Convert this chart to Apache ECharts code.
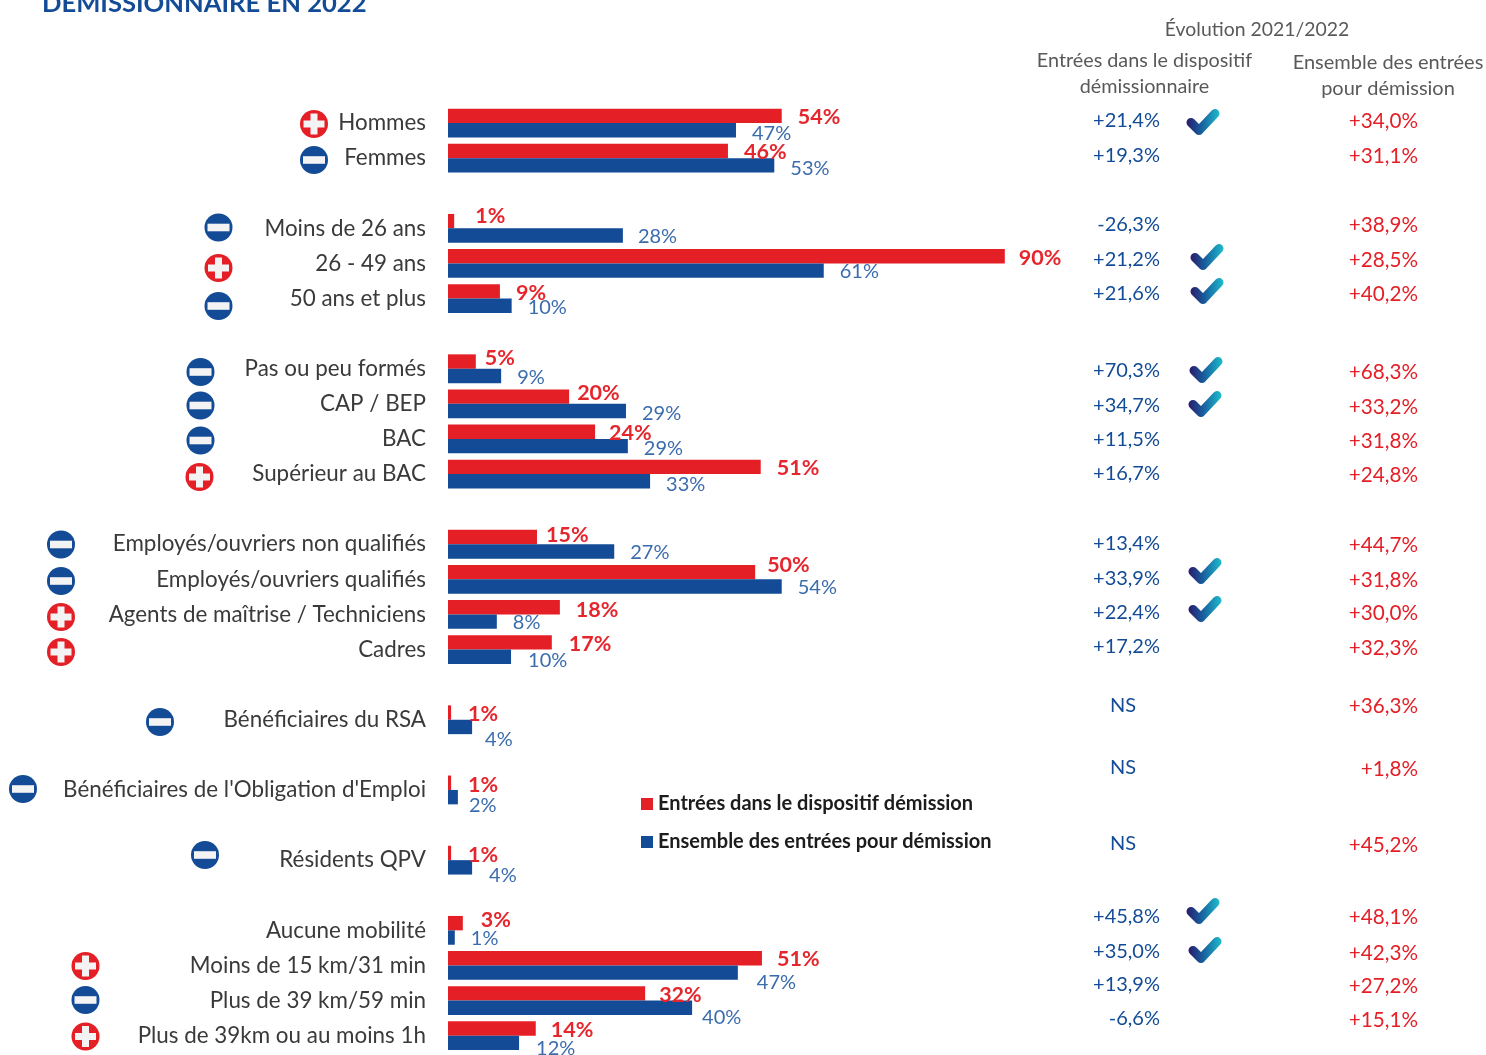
<!DOCTYPE html>
<html><head><meta charset="utf-8">
<style>html,body{margin:0;padding:0;background:#fff}#c{width:1486px;height:1055px}</style>
<script src="https://cdn.jsdelivr.net/npm/echarts@6/dist/echarts.min.js"></script>
</head><body><div id="c"></div>
<script>
// ---- data (one entry per row, '' / null = spacer row)
const categories = ['Hommes','Femmes','','Moins de 26 ans','26 - 49 ans','50 ans et plus','','Pas ou peu formés','CAP / BEP','BAC','Supérieur au BAC','','Employés/ouvriers non qualifiés','Employés/ouvriers qualifiés','Agents de maîtrise / Techniciens','Cadres','','Bénéficiaires du RSA','',"Bénéficiaires de l'Obligation d'Emploi",'','Résidents QPV','','Aucune mobilité','Moins de 15 km/31 min','Plus de 39 km/59 min','Plus de 39km ou au moins 1h'];
const redValues  = [54,45.3,null,1,90.1,8.4,null,4.5,19.6,23.8,50.6,null,14.4,49.7,18.1,16.8,null,0.5,null,0.5,null,0.5,null,2.4,50.8,31.9,14.2];
const blueValues = [46.6,52.8,null,28.3,60.8,10.3,null,8.6,28.8,29.1,32.7,null,26.9,54,7.9,10.2,null,3.9,null,1.6,null,3.9,null,1.1,46.9,39.5,11.5];
const redLabels  = ['54%','46%',null,'1%','90%','9%',null,'5%','20%','24%','51%',null,'15%','50%','18%','17%',null,'1%',null,'1%',null,'1%',null,'3%','51%','32%','14%'];
const blueLabels = ['47%','53%',null,'28%','61%','10%',null,'9%','29%','29%','33%',null,'27%','54%','8%','10%',null,'4%',null,'2%',null,'4%',null,'1%','47%','40%','12%'];
const evolDispositif = ['+21,4%','+19,3%',null,'-26,3%','+21,2%','+21,6%',null,'+70,3%','+34,7%','+11,5%','+16,7%',null,'+13,4%','+33,9%','+22,4%','+17,2%',null,'NS',null,'NS',null,'NS',null,'+45,8%','+35,0%','+13,9%','-6,6%'];
const evolEnsemble   = ['+34,0%','+31,1%',null,'+38,9%','+28,5%','+40,2%',null,'+68,3%','+33,2%','+31,8%','+24,8%',null,'+44,7%','+31,8%','+30,0%','+32,3%',null,'+36,3%',null,'+1,8%',null,'+45,2%',null,'+48,1%','+42,3%','+27,2%','+15,1%'];
const signs  = ['+','-',null,'-','+','-',null,'-','-','-','+',null,'-','-','+','+',null,'-',null,'-',null,'-',null,null,'+','-','+'];
const checks = [1,0,0,0,1,1,0,1,1,0,0,0,0,1,1,0,0,0,0,0,0,0,0,1,1,0,0];

// ---- layout (kept apart from the data)
const redLabelDx  = [16,16,0,21,14,16,0,9,8,14,16,0,9,12,16,17,0,17,0,17,0,17,0,18,15,14,15];
const redLabelDy  = [1.5,1.5,0,-5,2,1.5,0,-3.5,-3.5,1.5,1,0,-2,-7,3,2,0,2,0,2,0,2,0,-3.5,1,1.5,2];
const blueLabelDx = [16,16,0,15,16,16,0,16,16,16,16,0,16,16,16,17,0,13,0,11,0,17,0,16,19,10,17];
const blueLabelDy = [3,3,0,1,1,2,0,2,2,2,3,0,1,1,1,4,0,13,0,8,0,8,0,1,10,10,6];
const col1Y = [121,156,0,225,260,294,0,371,406,440,474,0,544,579,613,647,0,706,0,768,0,844,0,917,952,985,1019];
const col2Y = [121,156,0,225,260,294,0,372,407,441,475,0,545,580,613,648,0,706,0,769,0,845,0,917,953,986,1020];
const iconX = [314,314,0,218.5,218.5,218.5,0,200.5,200.5,200.5,199.5,0,61,61,61,61,0,160,0,23,0,205,0,0,85.5,85.5,85.5];
const iconY = [124,160,0,227.5,268,306,0,372,405.5,440.5,477,0,544.5,581,617,652,0,722,0,789,0,855,0,0,966,1000,1036.5];
const checkX = [1203,0,0,0,1207,1207,0,1206,1205,0,0,0,0,1205,1205,0,0,0,0,0,0,0,0,1203,1205,0,0];
const checkY = [122,0,0,0,257,291,0,370,404,0,0,0,0,571,609,0,0,0,0,0,0,0,0,911,950,0,0];

const RED='#e41f26', BLUE='#134b96', FONT='Lato, Carlito, "Open Sans", sans-serif';

function barData(vals, labs, dx, dy){
  return vals.map((v,i)=> v==null ? {value:null} : {value:v, label:{formatter:labs[i], offset:[dx[i],dy[i]]}});
}
const iconData=[], col1Data=[], col2Data=[], checkData=[];
categories.forEach((c,i)=>{
  if(signs[i]) iconData.push([iconX[i],iconY[i],signs[i]==='+'?1:0]);
  if(evolDispositif[i]) col1Data.push([evolDispositif[i]==='NS'?1136:1160,col1Y[i],evolDispositif[i]]);
  if(evolEnsemble[i]) col2Data.push([1418,col2Y[i],evolEnsemble[i]]);
  if(checks[i]) checkData.push([checkX[i],checkY[i]]);
});
function textSeries(data,color,size){
  return {type:'custom',xAxisIndex:1,yAxisIndex:1,silent:true,data,
    encode:{x:0,y:1},
    renderItem(p,api){
      const pt=api.coord([api.value(0),api.value(1)]);
      return {type:'text',x:pt[0],y:pt[1],style:{text:String(data[p.dataIndex][2]),fill:color,font:size+'px '+FONT,align:'right',verticalAlign:'middle'}};
    }};
}
const option={
  animation:false,
  backgroundColor:'#fff',
  title:{text:'DÉMISSIONNAIRE EN 2022',left:37,top:-14,textStyle:{color:BLUE,fontFamily:FONT,fontWeight:'bold',fontSize:25.6}},
  legend:{left:636,top:789,orient:'vertical',itemGap:18,itemWidth:12,itemHeight:12,icon:'rect',selectedMode:false,
    data:['Entrées dans le dispositif démission','Ensemble des entrées pour démission'],
    textStyle:{color:'#1c1c1c',fontFamily:FONT,fontWeight:'bold',fontSize:20}},
  grid:[{left:448,top:105.5,width:618,height:947.7,containLabel:false},{left:0,top:0,width:1486,height:1055}],
  xAxis:[{type:'value',gridIndex:0,min:0,max:100,show:false},{type:'value',gridIndex:1,min:0,max:1486,show:false}],
  yAxis:[{type:'category',gridIndex:0,inverse:true,data:categories,
      axisLine:{show:false},axisTick:{show:false},splitLine:{show:false},
      axisLabel:{interval:0,margin:22,color:'#3a3a3a',fontFamily:FONT,fontSize:22.4}},
    {type:'value',gridIndex:1,min:0,max:1055,inverse:true,show:false}],
  graphic:[
    {type:'text',x:1257,y:30,style:{text:'Évolution 2021/2022',fill:'#595959',font:'19.4px '+FONT,align:'center',verticalAlign:'middle'}},
    {type:'text',x:1144.5,y:61,style:{text:'Entrées dans le dispositif',fill:'#595959',font:'19.8px '+FONT,align:'center',verticalAlign:'middle'}},
    {type:'text',x:1144.5,y:87,style:{text:'démissionnaire',fill:'#595959',font:'19.8px '+FONT,align:'center',verticalAlign:'middle'}},
    {type:'text',x:1388,y:63,style:{text:'Ensemble des entrées',fill:'#595959',font:'20px '+FONT,align:'center',verticalAlign:'middle'}},
    {type:'text',x:1388,y:89,style:{text:'pour démission',fill:'#595959',font:'20px '+FONT,align:'center',verticalAlign:'middle'}}
  ],
  series:[
    {name:'Entrées dans le dispositif démission',type:'bar',xAxisIndex:0,yAxisIndex:0,barWidth:14.4,barGap:0,silent:true,z:2,
      itemStyle:{color:RED},
      label:{show:true,position:'right',distance:0,color:'#e5262d',fontFamily:FONT,fontWeight:'bold',fontSize:21.5},
      data:barData(redValues,redLabels,redLabelDx,redLabelDy)},
    {name:'Ensemble des entrées pour démission',type:'bar',xAxisIndex:0,yAxisIndex:0,barWidth:14.4,barGap:0,silent:true,z:2,
      itemStyle:{color:BLUE},
      label:{show:true,position:'right',distance:0,color:'#3b6cae',fontFamily:FONT,fontSize:20},
      data:barData(blueValues,blueLabels,blueLabelDx,blueLabelDy)},
    {type:'custom',xAxisIndex:1,yAxisIndex:1,silent:true,data:iconData,encode:{x:0,y:1},
      renderItem(p,api){
        const pt=api.coord([api.value(0),api.value(1)]), plus=api.value(2)===1;
        const kids=[{type:'circle',shape:{cx:0,cy:0,r:14},style:{fill:plus?RED:BLUE}}];
        if(plus){
          kids.push({type:'rect',shape:{x:-10.5,y:-3.5,width:21,height:7},style:{fill:'#f3f3f3'}});
          kids.push({type:'rect',shape:{x:-3.5,y:-10.5,width:7,height:21},style:{fill:'#f3f3f3'}});
        } else {
          kids.push({type:'rect',shape:{x:-11,y:-3.8,width:22,height:7.6},style:{fill:'#f3f3f3'}});
        }
        return {type:'group',x:pt[0],y:pt[1],children:kids};
      }},
    {type:'custom',xAxisIndex:1,yAxisIndex:1,silent:true,data:checkData,encode:{x:0,y:1},
      renderItem(p,api){
        const pt=api.coord([api.value(0),api.value(1)]);
        return {type:'polyline',x:pt[0],y:pt[1],
          shape:{points:[[-12,0.5],[-4,8.5],[12,-8.5]]},
          style:{fill:null,lineWidth:9,lineCap:'round',lineJoin:'round',
            stroke:new echarts.graphic.LinearGradient(0,0,1,0,[{offset:0,color:'#2a1b6b'},{offset:0.45,color:'#17609f'},{offset:1,color:'#1fbccb'}])}};
      }},
    textSeries(col1Data,BLUE,20),
    textSeries(col2Data,RED,20.7)
  ]
};
echarts.init(document.getElementById('c'),null,{renderer:'canvas'}).setOption(option);
</script></body></html>
